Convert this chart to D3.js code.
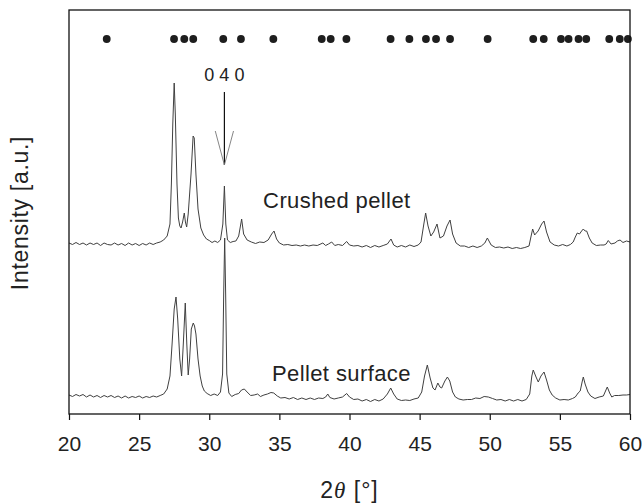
<!DOCTYPE html>
<html>
<head>
<meta charset="utf-8">
<script src="https://cdn.jsdelivr.net/npm/d3@7/dist/d3.min.js"></script>
<style>
    body { margin: 0; background: #fff; }
    svg text { font-family: "Liberation Sans", Arial, sans-serif; fill: #222; }
</style>
</head>
<body>
<svg id="chart" width="644" height="504"></svg>
<script>
// x ticks (2 theta, degrees)
const xTicks = [20, 25, 30, 35, 40, 45, 50, 55, 60];

// reference reflection positions (black dots along the top)
const refPeaks = [22.69, 27.49, 28.22, 28.86, 31.0, 32.26, 34.57, 38.02, 38.66, 39.78,
    42.93, 44.27, 45.45, 46.17, 47.17, 49.85, 53.1, 53.85, 55.08, 55.62,
    56.33, 56.88, 58.52, 59.27, 59.85];
const refLevel = 375;

// crushed pellet pattern [2theta, intensity a.u.] (offset upwards)
const crushed = [
    [20.0, 171], [20.25, 169.5], [20.5, 171.5], [20.75, 169.5], [21.0, 171], [21.25, 169],
    [21.5, 171], [21.75, 169.5], [22.0, 171], [22.25, 168.5], [22.5, 171], [22.75, 169.5],
    [23.0, 169], [23.25, 171], [23.5, 169], [23.75, 170.5], [24.0, 168.5], [24.25, 171],
    [24.5, 169], [24.75, 170.5], [25.0, 168.5], [25.25, 170.5], [25.5, 169], [25.75, 171],
    [26.0, 169.5], [26.25, 171], [26.5, 172], [26.75, 174], [27.0, 178], [27.2, 190],
    [27.3, 230], [27.4, 290], [27.5, 331], [27.58, 300], [27.7, 230], [27.8, 196],
    [27.9, 188], [27.99, 186], [28.1, 192], [28.22, 201], [28.3, 192], [28.39, 187],
    [28.5, 200], [28.7, 240], [28.85, 278], [28.93, 276], [29.05, 240], [29.2, 205],
    [29.4, 186], [29.6, 179], [29.8, 175], [30.0, 173.5], [30.2, 171.5], [30.4, 173],
    [30.6, 171.5], [30.8, 174], [30.97, 190], [31.08, 228], [31.18, 190], [31.3, 174],
    [31.5, 171.5], [31.7, 172.5], [31.9, 173], [32.1, 178], [32.31, 195], [32.45, 180],
    [32.7, 174], [33.0, 172], [33.3, 170.5], [33.6, 172], [33.9, 171.5], [34.2, 174],
    [34.45, 180], [34.62, 183], [34.8, 175], [35.0, 171], [35.3, 169], [35.6, 169.5],
    [35.9, 168.5], [36.2, 169], [36.5, 168], [36.8, 169], [37.1, 168], [37.4, 169],
    [37.7, 168.5], [38.1, 171], [38.3, 168.5], [38.5, 170], [38.73, 172], [38.95, 168.5],
    [39.2, 169.5], [39.5, 168.5], [39.8, 172.5], [40.0, 169], [40.3, 168], [40.6, 168.5],
    [40.9, 167], [41.2, 168.5], [41.5, 166.5], [41.8, 168.5], [42.1, 167], [42.4, 168.5],
    [42.7, 170], [42.96, 175], [43.15, 169], [43.4, 167], [43.7, 168.5], [44.0, 167],
    [44.3, 169], [44.6, 167.5], [44.9, 169], [45.1, 172], [45.3, 190], [45.43, 201],
    [45.6, 188], [45.8, 178], [46.0, 182], [46.24, 190], [46.45, 176], [46.7, 178],
    [46.95, 188], [47.17, 194], [47.35, 180], [47.6, 171], [47.9, 168], [48.2, 168],
    [48.5, 166.5], [48.8, 168], [49.1, 166.5], [49.4, 168], [49.65, 171], [49.83, 176],
    [50.1, 169], [50.4, 166.5], [50.7, 167], [51.0, 166], [51.3, 167], [51.6, 165.5],
    [51.9, 166.5], [52.2, 165.5], [52.5, 166.5], [52.8, 168], [52.95, 178], [53.06, 185],
    [53.2, 179], [53.45, 183], [53.7, 190], [53.87, 193], [54.05, 182], [54.3, 172],
    [54.6, 169], [54.9, 168], [55.2, 169.5], [55.5, 168], [55.75, 169.5], [55.95, 172],
    [56.1, 177], [56.24, 181], [56.4, 180], [56.55, 183], [56.67, 185], [56.8, 183],
    [56.91, 183], [57.1, 176], [57.3, 171], [57.6, 168.5], [57.9, 169], [58.15, 169],
    [58.3, 170], [58.45, 173.5], [58.65, 170], [58.93, 171], [59.1, 173], [59.29, 174],
    [59.5, 171.5], [59.75, 173], [60.0, 172]
];

// pellet surface pattern [2theta, intensity a.u.]
const surface = [
    [20.0, 19], [20.25, 17.5], [20.5, 19.5], [20.75, 18], [21.0, 19.5], [21.25, 17],
    [21.5, 19], [21.75, 17], [22.0, 18.5], [22.25, 16.5], [22.5, 18.5], [22.75, 17],
    [23.0, 18.5], [23.25, 16.5], [23.5, 18], [23.75, 16], [24.0, 18], [24.25, 16],
    [24.5, 17.5], [24.75, 16.5], [25.0, 18], [25.25, 16], [25.5, 17.5], [25.75, 16.5],
    [26.0, 18], [26.25, 17], [26.5, 18.5], [26.75, 20], [27.0, 25], [27.2, 38],
    [27.35, 70], [27.5, 105], [27.63, 117], [27.75, 95], [27.9, 55], [28.03, 38],
    [28.15, 70], [28.29, 111], [28.4, 70], [28.5, 39], [28.6, 55], [28.72, 85],
    [28.86, 91], [28.95, 88], [29.05, 80], [29.2, 55], [29.35, 38], [29.5, 28],
    [29.65, 23], [29.85, 20.5], [30.1, 18.5], [30.35, 20], [30.6, 18.5], [30.8, 22],
    [30.95, 40], [31.03, 120], [31.1, 176], [31.17, 120], [31.25, 40], [31.4, 21],
    [31.6, 17.5], [31.85, 19.5], [32.1, 20.5], [32.3, 24], [32.5, 25], [32.7, 22],
    [32.95, 18.5], [33.2, 19], [33.45, 20], [33.65, 17.5], [33.9, 19], [34.15, 20],
    [34.4, 21.5], [34.6, 21], [34.85, 18], [35.1, 16], [35.4, 16.5], [35.7, 15],
    [36.0, 16.5], [36.3, 14.5], [36.6, 16], [36.9, 14.5], [37.2, 16], [37.5, 14.5],
    [37.8, 16], [38.1, 15.5], [38.3, 17], [38.45, 20], [38.6, 16.5], [38.9, 15],
    [39.2, 16], [39.5, 17], [39.8, 20.5], [40.0, 17], [40.3, 14.5], [40.6, 15],
    [40.9, 13], [41.2, 14.5], [41.5, 12.5], [41.8, 14.5], [42.1, 13], [42.4, 15],
    [42.7, 20], [42.94, 26], [43.15, 20], [43.4, 15], [43.7, 13.5], [44.0, 14],
    [44.3, 13.5], [44.6, 15], [44.9, 16], [45.15, 22], [45.35, 38], [45.55, 49],
    [45.75, 36], [45.95, 26], [46.1, 24], [46.3, 31], [46.45, 27], [46.57, 26],
    [46.8, 33], [46.98, 37], [47.15, 33], [47.35, 22], [47.55, 17], [47.8, 15],
    [48.1, 14], [48.4, 14.5], [48.7, 14.5], [49.0, 16], [49.3, 15.5], [49.6, 17.5],
    [49.9, 17], [50.2, 15.5], [50.5, 14], [50.8, 14.5], [51.1, 13], [51.4, 14.5],
    [51.7, 13], [52.0, 14.5], [52.3, 13], [52.6, 14.5], [52.85, 20], [53.0, 38],
    [53.1, 44], [53.3, 37], [53.46, 32], [53.65, 38], [53.87, 42], [54.05, 34],
    [54.25, 24], [54.45, 19], [54.7, 16], [55.0, 14], [55.3, 14.5], [55.6, 14],
    [55.9, 15.5], [56.1, 17], [56.3, 21], [56.45, 23], [56.6, 33], [56.67, 37],
    [56.8, 30], [57.0, 22], [57.2, 18], [57.5, 15.5], [57.8, 17], [58.1, 18],
    [58.38, 27], [58.55, 21], [58.7, 17], [58.9, 18.5], [59.2, 18.5], [59.5, 19],
    [59.75, 19], [60.0, 19.5]
];

// labels of the two patterns: [text, 2theta, intensity]
const seriesLabels = [["Crushed pellet", 33.84, 206], ["Pellet surface", 34.47, 33]];

// 040 reflection marker
const markPos = 31.08;
const markTop = 322, markTip = 249, markHead = 283, markHalf = 0.65;
const markText = "0 4 0";

var width = 644, height = 504;
var margin = {top: 10, right: 14, bottom: 90, left: 69};

var svg = d3.select("#chart");

var x = d3.scaleLinear().domain([20, 60])
    .range([margin.left, width - margin.right]);
var y = d3.scaleLinear().domain([0, 404])
    .range([height - margin.bottom, margin.top]);

// x axis
var xAxis = svg.append("g")
    .attr("transform", "translate(0," + (height - margin.bottom) + ")")
    .call(d3.axisBottom(x).tickValues(xTicks).tickSize(6).tickPadding(16).tickFormat(d3.format("d")));
xAxis.select(".domain").remove();
xAxis.selectAll(".tick line").attr("stroke", "#111").attr("stroke-width", 1.2);
xAxis.selectAll(".tick text")
    .style("font-size", "21px")
    .style("font-family", "'Liberation Sans', Arial, sans-serif")
    .attr("fill", "#222");

// patterns
var line = d3.line().x(d => x(d[0])).y(d => y(d[1]));
[crushed, surface].forEach(series => {
    svg.append("path")
        .datum(series)
        .attr("d", line)
        .attr("fill", "none")
        .attr("stroke", "#404040")
        .attr("stroke-width", 1)
        .attr("stroke-linejoin", "round");
});

// reference reflection dots
svg.selectAll("circle.ref")
    .data(refPeaks)
    .enter().append("circle")
    .attr("class", "ref")
    .attr("cx", d => x(d))
    .attr("cy", y(refLevel))
    .attr("r", 3.9)
    .attr("fill", "#1e1e1e");

// 040 marker
svg.append("line")
    .attr("x1", x(markPos)).attr("x2", x(markPos))
    .attr("y1", y(markTop)).attr("y2", y(markTip))
    .attr("stroke", "#111").attr("stroke-width", 1.2);
[-markHalf, markHalf].forEach(dx => {
    svg.append("line")
        .attr("x1", x(markPos + dx)).attr("y1", y(markHead))
        .attr("x2", x(markPos)).attr("y2", y(markTip))
        .attr("stroke", "#777").attr("stroke-width", 0.9);
});
svg.append("text")
    .attr("x", x(markPos))
    .attr("y", y(markTop) - 11)
    .style("text-anchor", "middle")
    .style("font-size", "18px")
    .text(markText);

// series labels
seriesLabels.forEach(s => {
    svg.append("text")
        .attr("x", x(s[1]))
        .attr("y", y(s[2]))
        .style("font-size", "22px")
        .style("letter-spacing", "0.4px")
        .text(s[0]);
});

// plot frame
svg.append("rect")
    .attr("x", margin.left)
    .attr("y", margin.top)
    .attr("width", width - margin.left - margin.right)
    .attr("height", height - margin.top - margin.bottom)
    .attr("fill", "none")
    .attr("stroke", "#111")
    .attr("stroke-width", 1.3);

// axis titles
var xTitle = svg.append("text")
    .attr("x", (margin.left + width - margin.right) / 2)
    .attr("y", 498)
    .style("text-anchor", "middle")
    .style("font-size", "23px")
    .style("letter-spacing", "1px");
xTitle.append("tspan").text("2");
xTitle.append("tspan").style("font-style", "italic").style("font-family", "'Liberation Serif', serif").text("θ");
xTitle.append("tspan").text(" [°]");

svg.append("text")
    .attr("transform", "translate(28,213) rotate(-90)")
    .style("text-anchor", "middle")
    .style("font-size", "23px")
    .style("letter-spacing", "0.7px")
    .text("Intensity [a.u.]");
</script>
</body>
</html>
